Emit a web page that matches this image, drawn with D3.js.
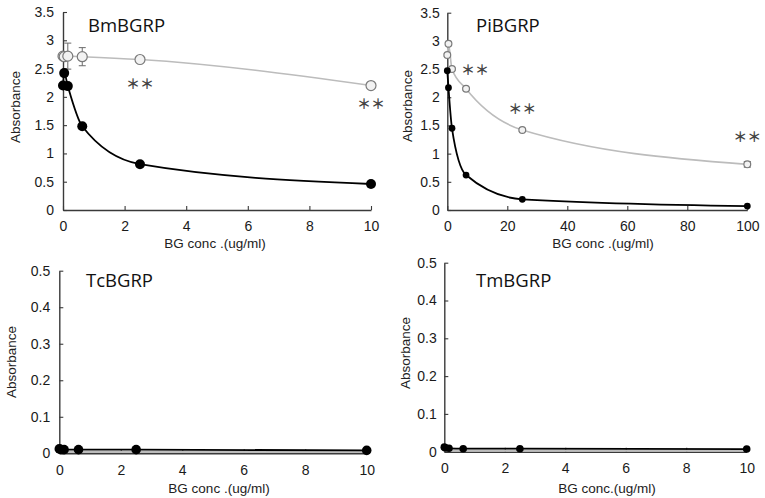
<!DOCTYPE html>
<html><head><meta charset="utf-8">
<script src="https://cdn.jsdelivr.net/npm/d3@7"></script>
<style>
html,body{margin:0;padding:0;background:#fff;}
svg{display:block;}
</style></head>
<body>
<script>
// ---------- data ----------
const panelNames = ["BmBGRP", "PiBGRP", "TcBGRP", "TmBGRP"];
const xTicksLow = [0, 2, 4, 6, 8, 10];
const xTicksHigh = [0, 20, 40, 60, 80, 100];
const yTicksHigh = [0, 0.5, 1, 1.5, 2, 2.5, 3, 3.5];
const yTicksLow = [0, 0.1, 0.2, 0.3, 0.4, 0.5];
const xTitle = "BG conc .(ug/ml)";
const xTitleTm = "BG conc.(ug/ml)";
const yTitle = "Absorbance";

// BmBGRP
const bmConc = [0, 0.039, 0.156, 0.625, 2.5, 10];
const bmBlack = [2.2, 2.42, 2.19, 1.48, 0.81, 0.46];
const bmGray = [2.72, 2.71, 2.72, 2.71, 2.66, 2.2];
const bmGrayErr = [0.03, 0.04, 0.23, 0.16, 0.02, 0.02];
const bmStars = [[2.5, 2.25], [10, 1.89]];

// PiBGRP
const piConc = [0, 0.39, 1.56, 6.25, 25, 100];
const piBlack = [2.47, 2.17, 1.45, 0.62, 0.19, 0.07];
const piGray = [2.75, 2.95, 2.5, 2.15, 1.42, 0.81];
const piGrayErr = [0.02, 0.02, 0.02, 0.02, 0.02, 0.05];
const piStars = [[9.2, 2.5], [25, 1.81], [100, 1.31]];

// TcBGRP
const tcConc = [0, 0.039, 0.156, 0.625, 2.5, 10];
const tcBlack = [0.012, 0.011, 0.01, 0.01, 0.01, 0.008];
const tcGray = [0.004, 0.004, 0.004, 0.004, 0.004, 0.004];

// TmBGRP
const tmConc = [0, 0.039, 0.156, 0.625, 2.5, 10];
const tmBlack = [0.012, 0.01, 0.009, 0.008, 0.008, 0.007];
const tmGray = [0.003, 0.003, 0.003, 0.003, 0.003, 0.003];

// ---------- layout ----------
const W = 765, H = 498;
const svg = d3.select("body").append("svg").attr("width", W).attr("height", H)
  .style("font-family", "'Liberation Sans', Arial, sans-serif");
svg.append("rect").attr("width", W).attr("height", H).attr("fill", "#fff");

const panels = [
  { name: panelNames[0], x0: 63, x1: 371, yb: 210, yt: 12, xmax: 10, ymax: 3.5,
    xt: xTicksLow, yt_: yTicksHigh, conc: bmConc, black: bmBlack, gray: bmGray, err: bmGrayErr,
    stars: bmStars, r: 5, titleX: 88, titleY: 32, ylabX: 15, ylabY: 107, xlabX: 215, xlabY: 248,
    xPad: 11, yPad: 9, xTitle: xTitle },
  { name: panelNames[1], x0: 447.3, x1: 747.3, yb: 210, yt: 12.7, xmax: 100, ymax: 3.5,
    xt: xTicksHigh, yt_: yTicksHigh, conc: piConc, black: piBlack, gray: piGray, err: piGrayErr,
    stars: piStars, r: 3.4, titleX: 476, titleY: 32, ylabX: 407, ylabY: 106, xlabX: 603, xlabY: 248,
    xPad: 11, yPad: 7.5, xTitle: xTitle },
  { name: panelNames[2], x0: 59.3, x1: 366.7, yb: 453.3, yt: 270.7, xmax: 10, ymax: 0.5,
    xt: xTicksLow, yt_: yTicksLow, conc: tcConc, black: tcBlack, gray: tcGray, err: null,
    stars: [], r: 4.8, titleX: 86, titleY: 287, ylabX: 11, ylabY: 362, xlabX: 219, xlabY: 493,
    xPad: 11.5, yPad: 9, xTitle: xTitle },
  { name: panelNames[3], x0: 444.3, x1: 746.7, yb: 451.7, yt: 262.7, xmax: 10, ymax: 0.5,
    xt: xTicksLow, yt_: yTicksLow, conc: tmConc, black: tmBlack, gray: tmGray, err: null,
    stars: [], r: 3.8, titleX: 476, titleY: 287, ylabX: 405, ylabY: 353, xlabX: 607, xlabY: 493,
    xPad: 11.5, yPad: 7.5, xTitle: xTitleTm }
];

const fmt = v => String(+v.toFixed(2));
const axisColor = "#3a3a3a";

panels.forEach(p => {
  const g = svg.append("g");
  const x = d3.scaleLinear().domain([0, p.xmax]).range([p.x0, p.x1]);
  const y = d3.scaleLinear().domain([0, p.ymax]).range([p.yb, p.yt]);

  // axes
  const xa = g.append("g").attr("transform", `translate(0,${p.yb})`)
    .call(d3.axisBottom(x).tickValues(p.xt).tickFormat(fmt).tickSizeInner(-4).tickSizeOuter(0).tickPadding(p.xPad));
  const ya = g.append("g").attr("transform", `translate(${p.x0},0)`)
    .call(d3.axisLeft(y).tickValues(p.yt_).tickFormat(fmt).tickSizeInner(-4).tickSizeOuter(0).tickPadding(p.yPad));
  [xa, ya].forEach(a => {
    a.select(".domain").attr("stroke", axisColor).attr("stroke-width", 1.4);
    a.selectAll(".tick line").attr("stroke", axisColor).attr("stroke-width", 1.1);
    a.selectAll(".tick text").attr("fill", "#1a1a1a").style("font-size", "14px")
      .style("font-family", "'Liberation Sans', Arial, sans-serif");
  });

  // titles
  g.append("text").attr("x", p.titleX).attr("y", p.titleY).text(p.name)
    .style("font-family", "'Open Sans', 'Noto Sans', sans-serif").style("font-size", "18.5px").attr("fill", "#111");
  g.append("text").attr("transform", `translate(${p.ylabX},${p.ylabY}) rotate(-90)`)
    .attr("text-anchor", "middle").attr("dominant-baseline", "central")
    .style("font-size", "13.5px").attr("fill", "#222").text(yTitle);
  g.append("text").attr("x", p.xlabX).attr("y", p.xlabY).attr("text-anchor", "middle")
    .style("font-size", "13.5px").attr("fill", "#222").text(p.xTitle);

  const line = d3.line().x(d => x(d[0])).y(d => y(d[1])).curve(d3.curveMonotoneX);
  const grayPts = p.conc.map((c, i) => [c, p.gray[i], p.err ? p.err[i] : 0]);
  const blackPts = p.conc.map((c, i) => [c, p.black[i]]);

  // gray series
  g.append("path").datum(grayPts).attr("d", line).attr("fill", "none")
    .attr("stroke", "#bcbcbc").attr("stroke-width", p.err ? 1.6 : 2.2);
  if (p.err) {
    const eb = g.append("g").attr("stroke", "#6a6a6a").attr("stroke-width", 1);
    grayPts.forEach(d => {
      if (d[2] <= 0) return;
      const cx = x(d[0]), yt = y(d[1] + d[2]), yb = y(d[1] - d[2]);
      eb.append("line").attr("x1", cx).attr("x2", cx).attr("y1", yt).attr("y2", yb);
      eb.append("line").attr("x1", cx - 3.5).attr("x2", cx + 3.5).attr("y1", yt).attr("y2", yt);
      eb.append("line").attr("x1", cx - 3.5).attr("x2", cx + 3.5).attr("y1", yb).attr("y2", yb);
    });
    g.append("g").selectAll("circle").data(grayPts).join("circle")
      .attr("cx", d => x(d[0])).attr("cy", d => y(d[1])).attr("r", p.r)
      .attr("fill", "#f2f2f2").attr("stroke", "#7a7a7a").attr("stroke-width", 1.2);
  }

  // black series
  g.append("path").datum(blackPts).attr("d", line).attr("fill", "none")
    .attr("stroke", "#000").attr("stroke-width", 1.8);
  g.append("g").selectAll("circle").data(blackPts).join("circle")
    .attr("cx", d => x(d[0])).attr("cy", d => y(d[1])).attr("r", p.r).attr("fill", "#000");

  // significance marks
  g.append("g").selectAll("text").data(p.stars).join("text")
    .attr("x", d => x(d[0])).attr("y", d => y(d[1])).attr("text-anchor", "middle")
    .attr("dominant-baseline", "central")
    .style("font-family", "'Noto Sans CJK JP', sans-serif").style("font-size", "14px")
    .style("font-weight", "bold")
    .attr("fill", "#444").text("＊＊");
});
</script>
</body></html>
